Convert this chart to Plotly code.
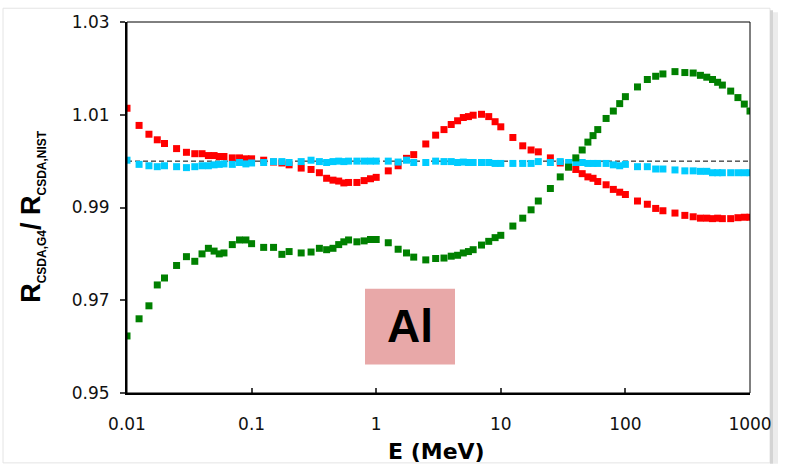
import plotly.graph_objects as go

# Electron energies (MeV), NIST ESTAR grid
energy = [
    0.01, 0.0125, 0.015, 0.0175, 0.02, 0.025, 0.03, 0.035, 0.04, 0.045,
    0.05, 0.055, 0.06, 0.07, 0.08, 0.09, 0.1, 0.125, 0.15, 0.175,
    0.2, 0.25, 0.3, 0.35, 0.4, 0.45, 0.5, 0.55, 0.6, 0.7,
    0.8, 0.9, 1, 1.25, 1.5, 1.75, 2, 2.5, 3, 3.5,
    4, 4.5, 5, 5.5, 6, 7, 8, 9, 10, 12.5,
    15, 17.5, 20, 25, 30, 35, 40, 45, 50, 55,
    60, 70, 80, 90, 100, 125, 150, 175, 200, 250,
    300, 350, 400, 450, 500, 550, 600, 700, 800, 900, 1000,
]

# Ratio of Geant4 CSDA range to NIST CSDA range, aluminium
ratio_red = [
    1.0114, 1.0077, 1.0058, 1.0046, 1.0038, 1.0027, 1.0019, 1.0016, 1.0016, 1.0012,
    1.0012, 1.0010, 1.0010, 1.0007, 1.0007, 1.0005, 1.0005, 1.0002, 0.9998, 0.9996,
    0.9992, 0.9985, 0.9982, 0.9975, 0.9963, 0.9959, 0.9957, 0.9953, 0.9954, 0.9954,
    0.9958, 0.9962, 0.9965, 0.9979, 0.9990, 1.0006, 1.0014, 1.0037, 1.0056, 1.0068,
    1.0079, 1.0087, 1.0094, 1.0096, 1.0099, 1.0101, 1.0096, 1.0085, 1.0074, 1.0051,
    1.0033, 1.0024, 1.0020, 1.0007, 0.9996, 0.9988, 0.9982, 0.9973, 0.9966, 0.9963,
    0.9956, 0.9949, 0.9939, 0.9933, 0.9928, 0.9914, 0.9907, 0.9898, 0.9893, 0.9888,
    0.9883, 0.9880, 0.9877, 0.9877, 0.9876, 0.9877, 0.9876, 0.9876, 0.9878, 0.9879, 0.9879,
]
ratio_green = [
    0.9623, 0.9660, 0.9688, 0.9733, 0.9748, 0.9775, 0.9794, 0.9784, 0.9800, 0.9812,
    0.9806, 0.9800, 0.9802, 0.9820, 0.9830, 0.9830, 0.9822, 0.9814, 0.9814, 0.9799,
    0.9805, 0.9802, 0.9804, 0.9812, 0.9809, 0.9812, 0.9820, 0.9826, 0.9830, 0.9826,
    0.9828, 0.9831, 0.9831, 0.9824, 0.9810, 0.9802, 0.9793, 0.9787, 0.9790, 0.9791,
    0.9795, 0.9797, 0.9802, 0.9805, 0.9809, 0.9819, 0.9827, 0.9835, 0.9840, 0.9860,
    0.9877, 0.9895, 0.9914, 0.9941, 0.9966, 0.9987, 1.0007, 1.0024, 1.0041, 1.0055,
    1.0068, 1.0092, 1.0108, 1.0124, 1.0139, 1.0160, 1.0176, 1.0183, 1.0188, 1.0193,
    1.0191, 1.0190, 1.0185, 1.0181, 1.0176, 1.0170, 1.0164, 1.0151, 1.0137, 1.0123, 1.0108,
]
ratio_cyan = [
    1.0002, 0.9993, 0.9990, 0.9988, 0.9990, 0.9988, 0.9986, 0.9988, 0.9990, 0.9990,
    0.9992, 0.9993, 0.9994, 0.9993, 0.9997, 0.9994, 0.9996, 0.9997, 0.9999, 0.9999,
    0.9997, 0.9999, 1.0002, 0.9999, 0.9997, 0.9999, 1.0000, 0.9999, 1.0000, 1.0000,
    1.0000, 1.0000, 1.0000, 1.0000, 0.9998, 1.0002, 0.9997, 0.9997, 1.0000, 0.9999,
    0.9999, 0.9997, 0.9998, 0.9997, 0.9997, 0.9997, 0.9997, 0.9995, 0.9995, 0.9995,
    0.9995, 0.9995, 0.9999, 0.9997, 0.9999, 0.9997, 0.9997, 0.9997, 0.9995, 0.9995,
    0.9995, 0.9995, 0.9992, 0.9990, 0.9993, 0.9988, 0.9988, 0.9983, 0.9983, 0.9981,
    0.9979, 0.9979, 0.9978, 0.9978, 0.9975, 0.9975, 0.9975, 0.9975, 0.9975, 0.9975, 0.9975,
]

# Unity reference level
ref_x = [0.01, 1000]
ref_y = [1.0, 1.0]

x_tickvals = [0.01, 0.1, 1, 10, 100, 1000]
x_ticktext = ["0.01", "0.1", "1", "10", "100", "1000"]
y_tickvals = [0.95, 0.97, 0.99, 1.01, 1.03]
y_ticktext = ["0.95", "0.97", "0.99", "1.01", "1.03"]

W, H = 786, 465
L, R, T, B = 127, 36, 16, 72
pw, ph = W - L - R, H - T - B


def px_x(p):
    return (p - L) / pw


def px_y(p):
    return (H - B - p) / ph


fig = go.Figure()

fig.add_trace(go.Scatter(
    x=ref_x, y=ref_y, mode="lines",
    line=dict(color="black", width=1, dash="5px,3px"),
    hoverinfo="skip", showlegend=False,
))

for vals, col in [(ratio_red, "#FF0000"), (ratio_cyan, "#00CCFF"), (ratio_green, "#008000")]:
    fig.add_trace(go.Scatter(
        x=energy, y=vals, mode="markers",
        marker=dict(symbol="square", size=7, color=col, line=dict(width=0)),
        showlegend=False,
    ))

tick_font = dict(family="DejaVu Sans", size=17, color="#111111")

fig.update_xaxes(
    type="log", range=[-2, 3],
    tickvals=x_tickvals, ticktext=x_ticktext,
    ticks="inside", ticklen=5, tickwidth=1.5, tickcolor="#444444",
    showline=True, linecolor="black", linewidth=2,
    showgrid=False, zeroline=False,
    tickfont=tick_font, ticklabelstandoff=15,
)
fig.update_yaxes(
    range=[0.95, 1.03],
    tickvals=y_tickvals, ticktext=y_ticktext,
    ticks="outside", ticklen=5, tickwidth=1.5, tickcolor="#444444",
    showline=True, linecolor="black", linewidth=2,
    showgrid=False, zeroline=False,
    tickfont=tick_font, ticklabelstandoff=7,
)

shapes = [
    # thin frame on top and right of the plot area
    dict(type="rect", xref="paper", yref="paper", x0=0, x1=1, y0=0, y1=1,
         line=dict(color="black", width=1), layer="above"),
    # page border and right-hand shadow
    dict(type="rect", xref="paper", yref="paper",
         x0=px_x(3), x1=px_x(770), y0=px_y(464), y1=px_y(2),
         line=dict(color="#E4E4E4", width=1), layer="below"),
    dict(type="rect", xref="paper", yref="paper",
         x0=px_x(770), x1=px_x(773), y0=px_y(465), y1=px_y(4),
         line=dict(width=0), fillcolor="#D4D4D4", layer="below"),
    dict(type="rect", xref="paper", yref="paper",
         x0=px_x(773), x1=px_x(778), y0=px_y(465), y1=px_y(6),
         line=dict(width=0), fillcolor="#ECECEC", layer="below"),
    # material label box
    dict(type="rect", xref="paper", yref="paper",
         x0=px_x(365), x1=px_x(455), y0=px_y(364), y1=px_y(287),
         line=dict(width=0), fillcolor="#E8A8A8", layer="above"),
]

annotations = [
    dict(text="<b>Al</b>", xref="paper", yref="paper", x=px_x(410), y=px_y(325),
         xanchor="center", yanchor="middle", showarrow=False,
         font=dict(family="Liberation Sans, Arial, sans-serif", size=46, color="black")),
    dict(text="<b>E (MeV)</b>", xref="paper", yref="paper", x=px_x(436), y=px_y(452),
         xanchor="center", yanchor="middle", showarrow=False,
         font=dict(family="DejaVu Sans", size=22, color="black")),
    dict(text=("<b>R<sub><span style='font-size:12px'>CSDA,G4</span></sub>/ "
               "R<sub><span style='font-size:12px'>CSDA,NIST</span></sub></b>"),
         xref="paper", yref="paper", x=px_x(33), y=px_y(214),
         xanchor="center", yanchor="middle", textangle=-90, showarrow=False,
         font=dict(family="Liberation Sans, Arial, sans-serif", size=27, color="black")),
]

fig.update_layout(
    width=W, height=H,
    margin=dict(l=L, r=R, t=T, b=B),
    paper_bgcolor="white", plot_bgcolor="white",
    shapes=shapes, annotations=annotations,
    showlegend=False,
)

fig.write_html("out.html")
